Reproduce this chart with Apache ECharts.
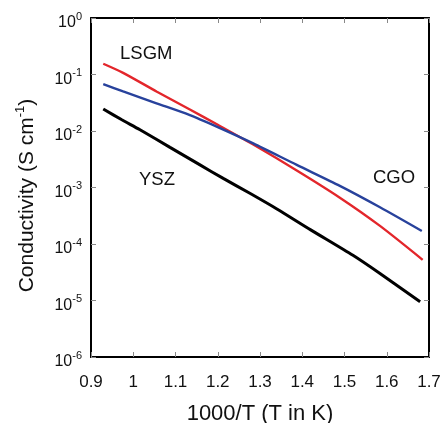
<!DOCTYPE html>
<html>
<head>
<meta charset="utf-8">
<script src="https://cdn.jsdelivr.net/npm/echarts@6/dist/echarts.min.js"></script>
<style>
html,body{margin:0;padding:0;background:#fff;}
#c{width:440px;height:423px;}
</style>
</head>
<body>
<div id="c"></div>
<script>
// 1000/T values and conductivities (S/cm)
const lsgmX = [0.929, 0.976, 1.055, 1.134, 1.20, 1.284, 1.387, 1.489, 1.584, 1.685];
const lsgmY = [0.155, 0.107, 0.0501, 0.0240, 0.0129, 0.00575, 0.00200, 6.6e-4, 2.09e-4, 5.25e-5];
const cgoX = [0.929, 0.976, 1.055, 1.134, 1.20, 1.284, 1.387, 1.489, 1.584, 1.683];
const cgoY = [0.0676, 0.0501, 0.0309, 0.0191, 0.0117, 0.00603, 0.00251, 0.00107, 4.47e-4, 1.70e-4];
const yszX = [0.929, 0.973, 1.016, 1.087, 1.158, 1.213, 1.276, 1.34, 1.42, 1.52, 1.584, 1.679];
const yszY = [0.0245, 0.0158, 0.0105, 0.00513, 0.00251, 0.00145, 7.9e-4, 4.17e-4, 1.78e-4, 6.3e-5, 3.0e-5, 9.5e-6];
const xTicks = ['0.9', '1', '1.1', '1.2', '1.3', '1.4', '1.5', '1.6', '1.7'];
const seriesNames = ['LSGM', 'CGO', 'YSZ'];

const zip = (xs, ys) => xs.map((x, i) => [x, ys[i]]);
const font = 'Liberation Sans, Arial, sans-serif';

const chart = echarts.init(document.getElementById('c'), null, {renderer: 'canvas'});
const axisLine = {show: true, lineStyle: {color: '#000', width: 2}};
const tick = {show: true, inside: true, length: 5, lineStyle: {color: '#888', width: 1}};

chart.setOption({
  animation: false,
  backgroundColor: '#fff',
  grid: {left: 91, right: 11, top: 18, bottom: 66, containLabel: false, outerBoundsMode: 'none'},
  xAxis: [{
    type: 'value', min: 0.9, max: 1.7, interval: 0.1,
    axisLine: axisLine, axisTick: tick, splitLine: {show: false},
    axisLabel: {
      color: '#111', fontFamily: font, fontSize: 17, margin: 17,
      formatter: (v) => xTicks[Math.round((v - 0.9) * 10)]
    },
    name: '1000/T (T in K)', nameLocation: 'middle', nameGap: 46,
    nameTextStyle: {color: '#111', fontFamily: font, fontSize: 22}
  }, {
    type: 'value', position: 'top', min: 0.9, max: 1.7, interval: 0.1,
    axisLine: axisLine, axisTick: tick, axisLabel: {show: false}, splitLine: {show: false}
  }],
  yAxis: [{
    type: 'log', logBase: 10, min: 1e-6, max: 1,
    axisLine: axisLine, axisTick: tick, splitLine: {show: false}, minorTick: {show: false},
    axisLabel: {
      color: '#111', fontFamily: font, fontSize: 16, margin: 9, padding: [6, 0, 0, 0],
      formatter: (v) => '{b|10}{s|' + Math.round(Math.log10(v)) + '}',
      rich: {
        b: {fontSize: 16, fontFamily: font, color: '#111', lineHeight: 20, verticalAlign: 'bottom'},
        s: {fontSize: 11, fontFamily: font, color: '#111', lineHeight: 20, verticalAlign: 'top'}
      }
    },
    name: '{n|Conductivity (S cm}{s|-1}{n|)}', nameLocation: 'middle', nameGap: 53,
    nameTextStyle: {
      padding: [0, 16, 0, 0],
      rich: {
        n: {fontSize: 21, fontFamily: font, color: '#111', lineHeight: 24, verticalAlign: 'bottom'},
        s: {fontSize: 13, fontFamily: font, color: '#111', lineHeight: 24, verticalAlign: 'top'}
      }
    }
  }, {
    type: 'log', logBase: 10, min: 1e-6, max: 1, position: 'right',
    axisLine: axisLine, axisTick: tick, axisLabel: {show: false}, splitLine: {show: false}
  }],
  series: [
    {name: seriesNames[0], type: 'line', data: zip(lsgmX, lsgmY), smooth: 0.25, showSymbol: false,
     lineStyle: {color: '#e3262b', width: 2.4}},
    {name: seriesNames[1], type: 'line', data: zip(cgoX, cgoY), smooth: 0.25, showSymbol: false,
     lineStyle: {color: '#28429c', width: 2.4}},
    {name: seriesNames[2], type: 'line', data: zip(yszX, yszY), smooth: 0.25, showSymbol: false,
     lineStyle: {color: '#000', width: 3}}
  ],
  graphic: [
    {type: 'text', left: 120, top: 44, style: {text: seriesNames[0], font: '18.5px ' + font, fill: '#111'}},
    {type: 'text', left: 139, top: 170, style: {text: seriesNames[2], font: '18.5px ' + font, fill: '#111'}},
    {type: 'text', left: 373, top: 168, style: {text: seriesNames[1], font: '18.5px ' + font, fill: '#111'}}
  ]
});
</script>
</body>
</html>
